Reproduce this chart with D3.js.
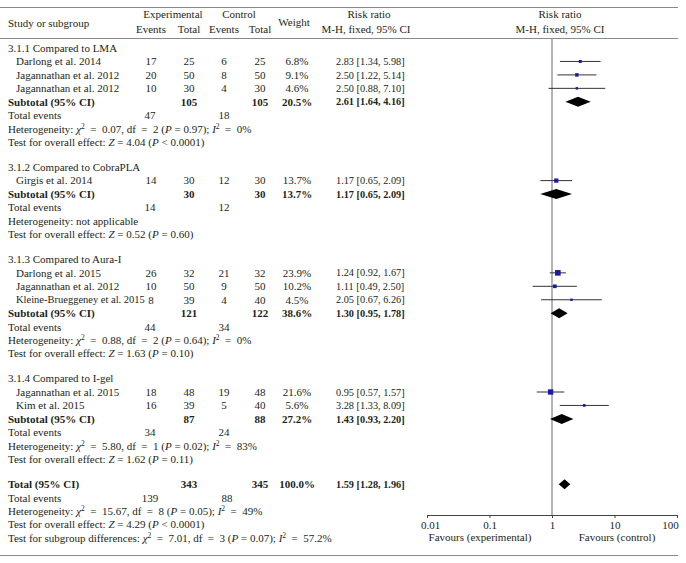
<!DOCTYPE html>
<html><head><meta charset="utf-8">
<script src="https://cdn.jsdelivr.net/npm/d3@7"></script>
<style>
body{margin:0;background:#fff}
svg{display:block;font-family:"Liberation Serif","Times New Roman",serif;font-size:11px}
text{fill:#231f20}
</style>
</head><body><svg id="c" width="686" height="563"></svg>
<script>
// ---------- data ----------
const groupNames = ["3.1.1 Compared to LMA","3.1.2 Compared to CobraPLA","3.1.3 Compared to Aura-I","3.1.4 Compared to I-gel"];
const studyNames = ["Darlong et al. 2014","Jagannathan et al. 2012","Jagannathan et al. 2012","Girgis et al. 2014","Darlong et al. 2015","Jagannathan et al. 2012","Kleine-Brueggeney et al. 2015","Jagannathan et al. 2015","Kim et al. 2015"];
const studyGroup = [0,0,0,1,2,2,2,3,3];
const expEvents = [17,20,10,14,26,10,8,18,16];
const expTotal = [25,50,30,30,32,50,39,48,39];
const ctrlEvents = [6,8,4,12,21,9,4,19,5];
const ctrlTotal = [25,50,30,30,32,50,40,48,40];
const weights = [6.8,9.1,4.6,13.7,23.9,10.2,4.5,21.6,5.6];
const rr = [2.83,2.50,2.50,1.17,1.24,1.11,2.05,0.95,3.28];
const rrLow = [1.34,1.22,0.88,0.65,0.92,0.49,0.67,0.57,1.33];
const rrHigh = [5.98,5.14,7.10,2.09,1.67,2.50,6.26,1.57,8.09];

const subExpTotal = [105,30,121,87];
const subCtrlTotal = [105,30,122,88];
const subWeight = [20.5,13.7,38.6,27.2];
const subRR = [2.61,1.17,1.30,1.43];
const subLow = [1.64,0.65,0.95,0.93];
const subHigh = [4.16,2.09,1.78,2.20];
const subExpEvents = [47,14,44,34];
const subCtrlEvents = [18,12,34,24];
const hetChi2 = ["0.07",null,"0.88","5.80"];
const hetDf = [2,null,2,1];
const hetP = ["0.97",null,"0.64","0.02"];
const hetI2 = ["0%",null,"0%","83%"];
const zValue = ["4.04","0.52","1.63","1.62"];
const zP = ["< 0.0001","= 0.60","= 0.10","= 0.11"];

const totalLabel = "Total (95% CI)";
const totalExpTotal = 343, totalCtrlTotal = 345, totalWeight = 100.0;
const totalRR = 1.59, totalLow = 1.28, totalHigh = 1.96;
const totalExpEvents = 139, totalCtrlEvents = 88;
const totalHetChi2 = "15.67", totalHetDf = 8, totalHetP = "0.05", totalHetI2 = "49%";
const totalZ = "4.29", totalZP = "< 0.0001";
const diffChi2 = "7.01", diffDf = 3, diffP = "0.07", diffI2 = "57.2%";

const axisTicks = [0.01,0.1,1,10,100];
const tickLabels = ["0.01","0.1","1","10","100"];
const favours = ["Favours (experimental)","Favours (control)"];

// ---------- layout ----------
const svg = d3.select("#c");
const x = d3.scaleLog().domain([0.01,100]).range([427,677]);
const col = {name:8, indent:16, eE:151, eT:189, cE:224, cT:260, w:297, rr:336};
const P = 13.45, G = 25, y0 = 48;
const rrFont = "10.3px";
const EQ = "\u2002=\u2002";

const rows = [];
groupNames.forEach((gName,g)=>{
  rows.push({type:"group", g});
  studyNames.forEach((s,i)=>{ if(studyGroup[i]===g) rows.push({type:"study", i}); });
  rows.push({type:"sub", g});
  rows.push({type:"events", g});
  rows.push({type:"het", g});
  rows.push({type:"test", g, gapAfter:true});
});
["total","totEvents","totHet","totTest","diff"].forEach(t=>rows.push({type:t}));
let yy = y0;
rows.forEach(r=>{ r.y = yy; yy += r.gapAfter ? G : P; });

const fmt2 = d3.format(".2f"), fmt1 = d3.format(".1f");
function rrText(v,l,h){ return fmt2(v)+" ["+fmt2(l)+", "+fmt2(h)+"]"; }

const T = svg.append("g");
function txt(xp,y,s,anchor,bold){
  return T.append("text").attr("x",xp).attr("y",y).attr("dy","0.35em")
    .attr("text-anchor",anchor||"start").attr("font-weight",bold?"bold":null).text(s);
}
function rich(xp,y,parts){
  const t = T.append("text").attr("x",xp).attr("y",y).attr("dy","0.35em");
  let shift=0;
  parts.forEach(p=>{
    const ts = t.append("tspan").text(p.t);
    if(p.i) ts.attr("font-style","italic");
    if(p.sup){ ts.attr("dy",-4).attr("font-size","7.5px"); shift=4; }
    else if(shift){ ts.attr("dy",shift); shift=0; }
  });
  return t;
}
function hetParts(label,chi,df,p,i2){
  return [{t:label},{t:"χ",i:1},{t:"2",sup:1},{t:EQ+chi+", df"+EQ+df+" ("},{t:"P",i:1},
          {t:" = "+p+"); "},{t:"I",i:1},{t:"2",sup:1},{t:EQ+i2}];
}
function testParts(z,p){
  return [{t:"Test for overall effect: "},{t:"Z",i:1},{t:" = "+z+" ("},{t:"P",i:1},{t:" "+p+")"}];
}

// ---------- rules ----------
const L = svg.append("g").attr("stroke","#8a8a8a").attr("stroke-width",1);
[7.5,38.5,555.5].forEach(yl=>L.append("line").attr("x1",0).attr("x2",678).attr("y1",yl).attr("y2",yl));

// ---------- header ----------
txt(col.name,23,"Study or subgroup");
txt(173,14,"Experimental","middle");
txt(col.eE,29,"Events","middle"); txt(col.eT,29,"Total","middle");
txt(239,14,"Control","middle");
txt(col.cE,29,"Events","middle"); txt(col.cT,29,"Total","middle");
txt(294,22,"Weight","middle");
txt(369,14,"Risk ratio","middle"); txt(366,29,"M-H, fixed, 95% CI","middle");
txt(560,14,"Risk ratio","middle"); txt(560,29,"M-H, fixed, 95% CI","middle");

// ---------- reference line & axis ----------
const axisY = 515;
svg.append("line").attr("x1",x(1)).attr("x2",x(1)).attr("y1",39).attr("y2",axisY)
  .attr("stroke","#9a9a9a").attr("stroke-width",1.5);
const ax = svg.append("g").attr("transform",`translate(0,${axisY})`)
  .call(d3.axisBottom(x).tickValues(axisTicks).tickFormat((d,i)=>tickLabels[i]).tickSize(3).tickPadding(3));
ax.select(".domain").attr("stroke","#444");
ax.selectAll(".tick line").attr("stroke","#444");
ax.selectAll(".tick text").attr("font-family","Liberation Serif").attr("font-size","11px").attr("fill","#231f20")
  .attr("dx",(d,i)=> i===0 ? 3 : (i===axisTicks.length-1 ? -7 : 0));
txt(480,537,favours[0],"middle");
txt(617,537,favours[1],"middle");

// ---------- rows ----------
const F = svg.append("g");
function diamond(v,l,h,y,hh){
  const pts=[[x(l),y],[x(v),y-hh],[x(h),y],[x(v),y+hh]];
  F.append("path").attr("d","M"+pts.map(p=>p.join(",")).join("L")+"Z").attr("fill","#000");
}
rows.forEach(r=>{
  const y = r.y;
  if(r.type==="group"){ txt(col.name,y,groupNames[r.g]); }
  else if(r.type==="study"){
    const i=r.i;
    const nm = txt(col.indent,y,studyNames[i]);
    const len = nm.node().getComputedTextLength();
    const room = col.eE - 6 - col.indent;
    if(len>room) nm.attr("font-size",(11*room/len).toFixed(2)+"px");
    txt(col.eE,y,expEvents[i],"middle"); txt(col.eT,y,expTotal[i],"middle");
    txt(col.cE,y,ctrlEvents[i],"middle"); txt(col.cT,y,ctrlTotal[i],"middle");
    txt(col.w,y,fmt1(weights[i])+"%","middle");
    txt(col.rr,y,rrText(rr[i],rrLow[i],rrHigh[i])).attr("font-size",rrFont);
    F.append("line").attr("x1",x(rrLow[i])).attr("x2",x(rrHigh[i])).attr("y1",y).attr("y2",y)
      .attr("stroke","#333").attr("stroke-width",1);
    const s = Math.max(2.4, Math.sqrt(weights[i])*1.15);
    F.append("rect").attr("x",x(rr[i])-s/2).attr("y",y-s/2).attr("width",s).attr("height",s)
      .attr("fill","#1a1aa6");
  }
  else if(r.type==="sub"){
    const g=r.g;
    txt(col.name,y,"Subtotal (95% CI)","start",1);
    txt(col.eT,y,subExpTotal[g],"middle",1); txt(col.cT,y,subCtrlTotal[g],"middle",1);
    txt(col.w,y,fmt1(subWeight[g])+"%","middle",1);
    txt(col.rr,y,rrText(subRR[g],subLow[g],subHigh[g]),"start",1).attr("font-size",rrFont);
    diamond(subRR[g],subLow[g],subHigh[g],y,5);
  }
  else if(r.type==="events"){
    txt(col.name,y,"Total events");
    txt(col.eE-1,y,subExpEvents[r.g],"middle"); txt(col.cE,y,subCtrlEvents[r.g],"middle");
  }
  else if(r.type==="het"){
    const g=r.g;
    if(hetChi2[g]===null) txt(col.name,y,"Heterogeneity: not applicable");
    else rich(col.name,y,hetParts("Heterogeneity: ",hetChi2[g],hetDf[g],hetP[g],hetI2[g]));
  }
  else if(r.type==="test"){ rich(col.name,y,testParts(zValue[r.g],zP[r.g])); }
  else if(r.type==="total"){
    txt(col.name,y,totalLabel,"start",1);
    txt(col.eT,y,totalExpTotal,"middle",1); txt(col.cT,y,totalCtrlTotal,"middle",1);
    txt(col.w,y,fmt1(totalWeight)+"%","middle",1);
    txt(col.rr,y,rrText(totalRR,totalLow,totalHigh),"start",1).attr("font-size",rrFont);
    diamond(totalRR,totalLow,totalHigh,y,5);
  }
  else if(r.type==="totEvents"){
    txt(col.name,y,"Total events");
    txt(col.eE-1,y,totalExpEvents,"middle"); txt(col.cE+3,y,totalCtrlEvents,"middle");
  }
  else if(r.type==="totHet"){ rich(col.name,y,hetParts("Heterogeneity: ",totalHetChi2,totalHetDf,totalHetP,totalHetI2)); }
  else if(r.type==="totTest"){ rich(col.name,y,testParts(totalZ,totalZP)); }
  else if(r.type==="diff"){ rich(col.name,y,hetParts("Test for subgroup differences: ",diffChi2,diffDf,diffP,diffI2)); }
});
</script>
</body></html>
